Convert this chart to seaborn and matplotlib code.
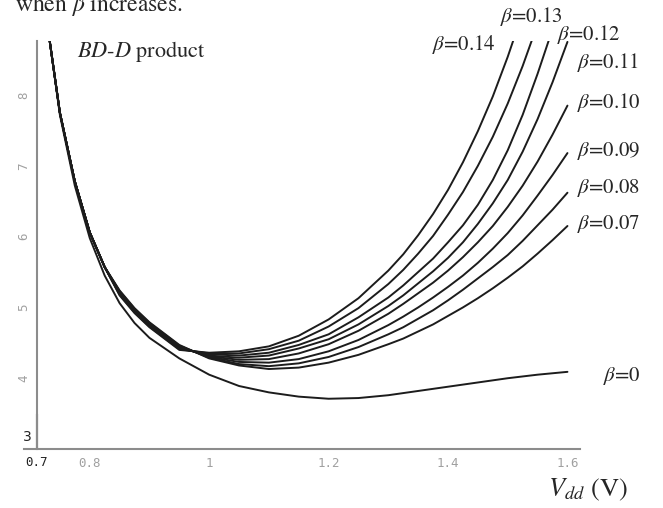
import numpy as np
import pandas as pd
import seaborn as sns
import matplotlib.pyplot as plt
from matplotlib.ticker import MultipleLocator

# values (BD-D product vs Vdd)
x_steep = [0.733, 0.75, 0.775, 0.8, 0.825]
common_steep = [8.76, 7.75, 6.78, 6.06, 5.57]
x_fan = [0.85, 0.875, 0.9, 0.95, 1.0, 1.05, 1.1, 1.15, 1.2, 1.25, 1.3, 1.325, 1.35,
         1.375, 1.4, 1.425, 1.45, 1.475, 1.5, 1.525, 1.55, 1.575, 1.6]

beta_007 = [5.24, 4.99, 4.79, 4.47, 4.28, 4.18, 4.13, 4.15, 4.22, 4.33, 4.48, 4.56, 4.66,
            4.76, 4.88, 5.00, 5.13, 5.27, 5.42, 5.58, 5.76, 5.95, 6.15]
beta_008 = [5.23, 4.98, 4.78, 4.46, 4.29, 4.20, 4.17, 4.21, 4.30, 4.44, 4.62, 4.72, 4.84,
            4.96, 5.10, 5.25, 5.41, 5.57, 5.74, 5.94, 6.16, 6.38, 6.62]
beta_009 = [5.22, 4.97, 4.77, 4.45, 4.30, 4.23, 4.22, 4.27, 4.38, 4.54, 4.75, 4.87, 5.00,
            5.14, 5.29, 5.45, 5.63, 5.83, 6.05, 6.30, 6.58, 6.87, 7.18]
beta_010 = [5.21, 4.96, 4.76, 4.44, 4.31, 4.26, 4.27, 4.35, 4.48, 4.67, 4.91, 5.05, 5.20,
            5.35, 5.52, 5.71, 5.92, 6.15, 6.42, 6.72, 7.06, 7.44, 7.85]
beta_011 = [5.20, 4.95, 4.75, 4.43, 4.32, 4.29, 4.32, 4.42, 4.55, 4.76, 5.02, 5.17, 5.34,
            5.51, 5.70, 5.92, 6.18, 6.47, 6.80, 7.20, 7.66, 8.18, 8.75]
beta_012 = [5.19, 4.94, 4.74, 4.42, 4.34, 4.32, 4.36, 4.47, 4.62, 4.86, 5.14, 5.31, 5.50,
            5.69, 5.92, 6.16, 6.45, 6.80, 7.22, 7.72, 8.30, 8.93, 9.62]
beta_013 = [5.18, 4.93, 4.73, 4.41, 4.35, 4.35, 4.41, 4.53, 4.73, 4.99, 5.33, 5.53, 5.76,
            6.01, 6.31, 6.63, 7.00, 7.41, 7.88, 8.41, 9.00, 9.62, 10.3]
beta_014 = [5.17, 4.92, 4.72, 4.40, 4.36, 4.38, 4.45, 4.60, 4.83, 5.13, 5.52, 5.75, 6.02,
            6.32, 6.66, 7.05, 7.49, 7.98, 8.54, 9.16, 9.85, 10.6, 11.4]

x_b0 = [0.733, 0.75, 0.775, 0.8, 0.825, 0.85, 0.875, 0.9, 0.95, 1.0, 1.05, 1.1, 1.15,
        1.2, 1.25, 1.3, 1.35, 1.4, 1.45, 1.5, 1.55, 1.6]
beta_0 = [8.76, 7.72, 6.72, 5.98, 5.45, 5.06, 4.78, 4.57, 4.28, 4.05, 3.89, 3.80, 3.74,
          3.71, 3.72, 3.76, 3.82, 3.88, 3.94, 4.00, 4.05, 4.09]

betas = ['0.07', '0.08', '0.09', '0.10', '0.11', '0.12', '0.13', '0.14']
fan = [beta_007, beta_008, beta_009, beta_010, beta_011, beta_012, beta_013, beta_014]

x_ticks = [0.8, 1.0, 1.2, 1.4, 1.6]
x_ticklabels = ['0.8', '1', '1.2', '1.4', '1.6']
y_ticks = [4, 5, 6, 7, 8]

# long-form table
rows = []
for b, vals in zip(betas, fan):
    for x, y in zip(x_steep + x_fan, common_steep + vals):
        rows.append({'vdd': x, 'bdd': y, 'beta': b})
for x, y in zip(x_b0, beta_0):
    rows.append({'vdd': x, 'bdd': y, 'beta': '0'})
df = pd.DataFrame(rows)

sns.set_style('white')
plt.rcParams['mathtext.fontset'] = 'stix'

W, H = 663, 508
fig = plt.figure(figsize=(W / 100, H / 100), dpi=100)
ax = fig.add_axes([0.0561, 0.1161, 0.8187, 0.8028])

sns.lineplot(data=df, x='vdd', y='bdd', hue='beta', estimator=None,
             palette={b: '#1c1c1c' for b in df['beta'].unique()},
             linewidth=1.4, legend=False, ax=ax)

ax.set_xlim(0.712, 1.621)
ax.set_ylim(3, 8.76)
ax.set_xlabel('')
ax.set_ylabel('')

for s in ['top', 'right']:
    ax.spines[s].set_visible(False)
for s in ['left', 'bottom']:
    ax.spines[s].set_color('#8c8c8c')
    ax.spines[s].set_linewidth(1.5)
ax.spines['bottom'].set_bounds(0.690, 1.621)
ax.axvline(0.712, ymin=0, ymax=0.085, color='k', lw=1.5, clip_on=False)

ax.set_xticks(x_ticks)
ax.set_xticklabels(x_ticklabels)
ax.set_yticks(y_ticks)
ax.xaxis.set_minor_locator(MultipleLocator(0.05))
ax.yaxis.set_minor_locator(MultipleLocator(0.2))
ax.tick_params(which='both', direction='in', color='#9a9a9a', width=1,
               labelcolor='#a0a0a0', labelsize=9)
ax.tick_params(which='major', length=5)
ax.tick_params(which='minor', length=3)
ax.tick_params(axis='x', pad=6)
ax.tick_params(axis='y', pad=5)
for lbl in ax.get_xticklabels() + ax.get_yticklabels():
    lbl.set_fontfamily('DejaVu Sans Mono')
for lbl in ax.get_yticklabels():
    lbl.set_rotation(90)
    lbl.set_va('center')


def ftext(px, py, s, **kw):
    fig.text(px / W, 1 - py / H, s, **kw)


serif = 'STIXGeneral'
ftext(37, 462, '0.7', ha='center', va='center', fontsize=9,
      family='DejaVu Sans Mono', color='#222222')
ftext(27, 437, '3', ha='center', va='center', fontsize=10, color='#222222')

ftext(15, 11, r'when $\beta$ increases.', va='baseline', fontsize=17, family=serif)
ftext(77, 52, r'$BD$-$D$ product', va='center', fontsize=16, family=serif)
ftext(548, 490, r'$V_{dd}$ (V)', va='center', fontsize=19, family=serif)

labels = [('0.14', 432, 44), ('0.13', 500, 16), ('0.12', 557, 34),
          ('0.11', 577, 63), ('0.10', 577, 102), ('0.09', 577, 151),
          ('0.08', 577, 188), ('0.07', 577, 224), ('0', 603, 376)]
for b, px, py in labels:
    ftext(px, py, r'$\beta$=' + b, va='center', fontsize=15, family=serif)

fig.savefig('out.png', dpi=100)
